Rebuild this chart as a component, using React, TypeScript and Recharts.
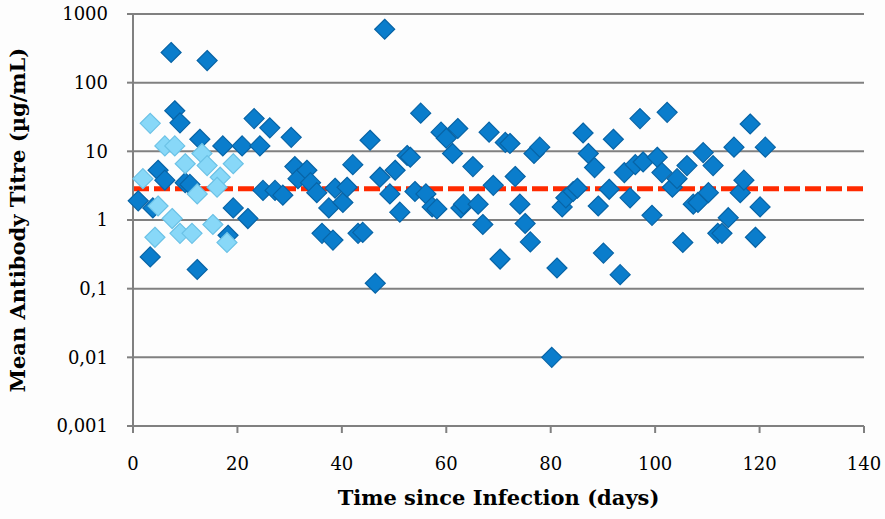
import React from 'react';
import { ScatterChart, Scatter, XAxis, YAxis, CartesianGrid, ReferenceLine } from 'recharts';

// days since infection / mean titre (ug/mL)
const earlyDays = [3.3, 6.1, 8, 13.2, 10, 14.2, 19.2, 1.9, 16.7, 16.1, 12.3, 4.8, 7.5, 9, 11.3, 15.3, 4.2, 18];
const earlyTitre = [25.6, 12, 12, 9.3, 6.6, 6.2, 6.6, 4, 4.2, 3, 2.4, 1.6, 1.05, 0.64, 0.64, 0.86, 0.56, 0.47];

const allDays = [
    1, 3.3, 3.8, 4.8, 6.1, 7.3, 8, 9, 10, 10.9, 12.3, 12.8, 14.2, 17.2, 18.2, 19.2, 20.9, 22, 23.2, 24.3,
    24.9, 26.2, 27.2, 28.7, 30.3, 31, 31.6, 33.3, 34, 35.2, 36.2, 37.5, 38.3, 38.7, 40.2, 41, 42.1, 43.1, 44, 45.4,
    46.4, 47.3, 48.2, 49.2, 50.2, 51.1, 52.5, 53.1, 54, 55.1, 56.1, 57.3, 58.2, 59, 60, 61.2, 62.2, 62.8, 63.3, 65.1,
    66.1, 67, 68.2, 69, 70.3, 71.3, 72.2, 73.2, 74.1, 75.1, 76.1, 76.8, 77.9, 80.2, 81.2, 82.2, 82.9, 84.3, 85.1, 86.2,
    87.2, 88.4, 89.1, 90.1, 91.2, 92, 93.3, 94.1, 95.2, 96.2, 97.1, 97.7, 99.4, 100.4, 101.3, 102.3, 103.3, 104.2, 105.3, 106.1,
    107.3, 108.2, 109.2, 110.2, 111.1, 112, 112.8, 114, 115.1, 116.3, 117, 118.2, 119.2, 120.1, 121.1,
];
const allTitre = [
    1.9, 0.29, 1.5, 5.3, 3.8, 275, 39, 26, 3.5, 3.3, 0.19, 15, 210, 12, 0.6, 1.5, 12, 1.05, 30, 12,
    2.7, 22, 2.7, 2.3, 16, 6, 4, 5.3, 3.5, 2.5, 0.64, 1.5, 0.51, 2.9, 1.8, 3, 6.4, 0.64, 0.66, 14.5,
    0.12, 4.2, 600, 2.4, 5.3, 1.3, 8.7, 8.2, 2.6, 36, 2.4, 1.55, 1.45, 19, 15.5, 9.3, 21.5, 1.5, 1.7, 6,
    1.7, 0.86, 19, 3.2, 0.27, 13.5, 13, 4.3, 1.7, 0.89, 0.48, 9.3, 11.5, 0.01, 0.2, 1.55, 2.1, 2.6, 2.9, 18.5,
    9.3, 5.8, 1.6, 0.33, 2.8, 15, 0.16, 4.9, 2.1, 6.4, 30, 7, 1.17, 8.2, 4.9, 37, 3, 4, 0.47, 6.2,
    1.7, 1.8, 9.6, 2.5, 6.2, 0.64, 0.64, 1.08, 11.5, 2.5, 3.8, 25, 0.56, 1.55, 11.5,
];

const xTicks = [0, 20, 40, 60, 80, 100, 120, 140];
const yTicks = [0.001, 0.01, 0.1, 1, 10, 100, 1000];
const cutoff = 2.85;

const early = earlyDays.map((d, i) => ({ day: d, titre: earlyTitre[i] }));
const all = allDays.map((d, i) => ({ day: d, titre: allTitre[i] }));

const font = '"DejaVu Serif", serif';

function Diamond(props: any) {
    const { cx, cy, fill, stroke } = props;
    const r = 10;
    return (
        <polygon
            points={`${cx},${cy - r} ${cx + r},${cy} ${cx},${cy + r} ${cx - r},${cy}`}
            fill={fill}
            stroke={stroke}
            strokeWidth={1.2}
        />
    );
}

export default function App() {
    return (
        <div style={{ width: 885, height: 519, background: '#fdfdfd' }}>
            <style>{'body{margin:0}'}</style>
            <ScatterChart width={885} height={519} margin={{ top: 14, right: 21, left: 0, bottom: 0 }}>
                <CartesianGrid horizontal={true} vertical={false} stroke="#808080" strokeWidth={2} />
                <XAxis
                    type="number"
                    dataKey="day"
                    domain={[0, 140]}
                    ticks={xTicks}
                    height={93}
                    stroke="#808080"
                    strokeWidth={2}
                    tickSize={7}
                    tickMargin={24}
                    tick={{ fill: '#000', fontSize: 18, fontFamily: font }}
                    label={{
                        value: 'Time since Infection (days)',
                        position: 'insideBottom',
                        offset: 14,
                        style: { fontFamily: font, fontWeight: 'bold', fontSize: 21, fill: '#000' },
                    }}
                />
                <YAxis
                    type="number"
                    dataKey="titre"
                    scale="log"
                    domain={[0.001, 1000]}
                    ticks={yTicks}
                    allowDataOverflow
                    width={133}
                    stroke="#808080"
                    strokeWidth={2}
                    tickSize={6}
                    tickMargin={19}
                    tickFormatter={(v: number) => String(v).replace('.', ',')}
                    tick={{ fill: '#000', fontSize: 18, fontFamily: font }}
                    label={{
                        value: 'Mean Antibody Titre (µg/mL)',
                        angle: -90,
                        position: 'insideLeft',
                        offset: 18,
                        style: { textAnchor: 'middle', fontFamily: font, fontWeight: 'bold', fontSize: 21, fill: '#000' },
                    }}
                />
                <Scatter data={all} fill="#0a7dcc" stroke="#0864a6" shape={<Diamond />} isAnimationActive={false} />
                <Scatter data={early} fill="#88d8f8" stroke="#6cc2e6" shape={<Diamond />} isAnimationActive={false} />
                <ReferenceLine y={cutoff} stroke="#ff2a00" strokeWidth={5} strokeDasharray="16 5" />
            </ScatterChart>
        </div>
    );
}
